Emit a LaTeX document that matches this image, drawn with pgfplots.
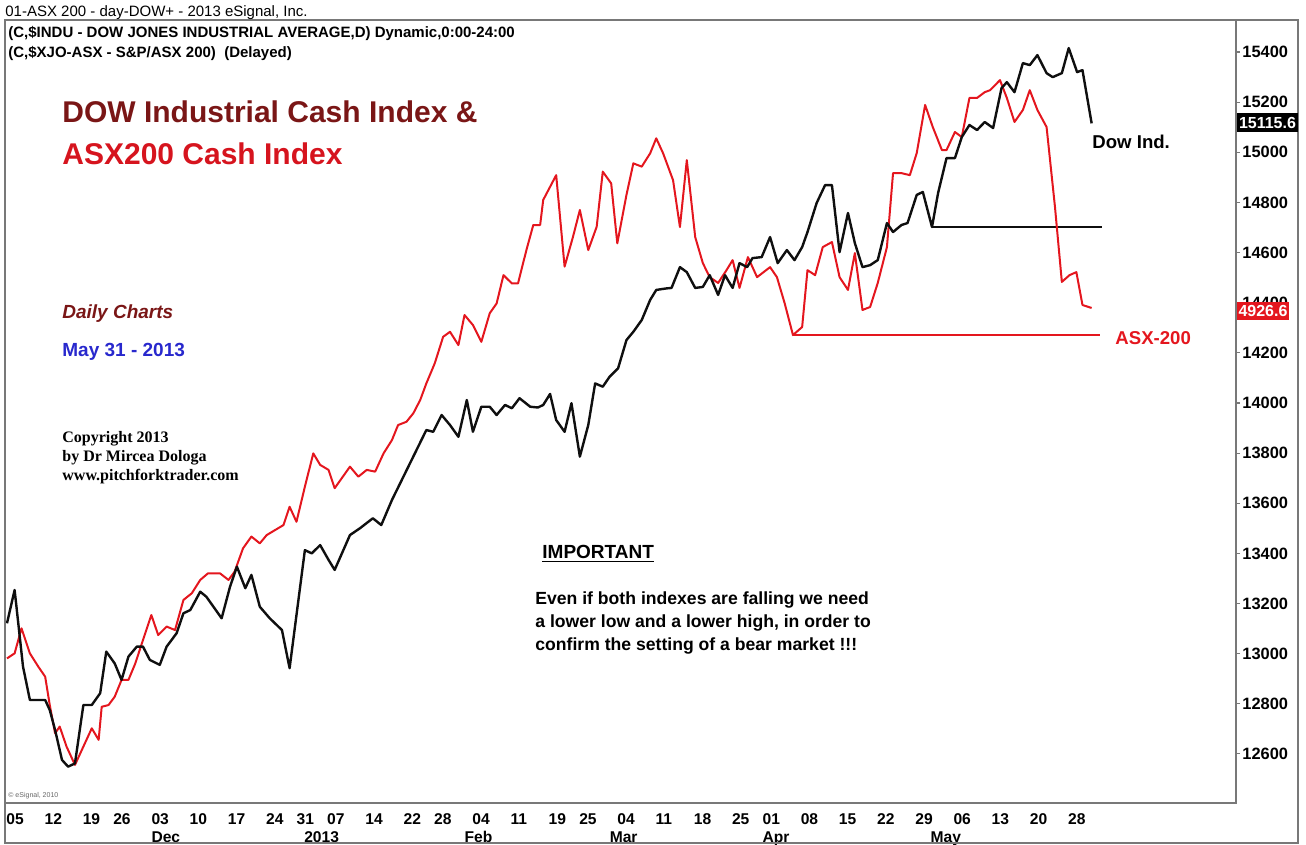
\documentclass[border=0pt]{standalone}
\usepackage{fontspec}
\setmainfont{Liberation Sans}
\newfontfamily\tnr{Liberation Serif}
\usepackage{pgfplots}
\usepackage{pgfplotstable}
\pgfplotsset{compat=1.18}

\definecolor{dowblk}{RGB}{15,15,15}
\definecolor{asxred}{RGB}{228,22,30}
\definecolor{maroon}{RGB}{122,22,22}
\definecolor{titlered}{RGB}{214,20,30}
\definecolor{dateblue}{RGB}{40,40,205}
\definecolor{framegray}{RGB}{120,120,120}

% x = trading day since 05 Nov 2012, y = index points on the Dow scale
\pgfplotstableread{
i v
0.0 13121
1.0 13254
2.1 12948
3.0 12815
5.0 12815
5.6 12775
6.3 12695
7.2 12576
8.0 12549
8.9 12562
10.0 12795
11.1 12795
12.2 12842
13.0 13008
14.1 12961
15.0 12895
15.9 12988
17.0 13028
17.8 13028
18.7 12975
20.0 12955
20.9 13028
22.2 13081
23.1 13161
24.0 13174
25.3 13247
26.1 13227
28.1 13141
29.2 13267
30.1 13347
31.2 13261
32.0 13314
33.1 13187
34.4 13141
36.0 13094
37.0 12942
39.0 13413
39.9 13400
41.0 13433
42.1 13374
42.9 13334
44.9 13473
46.2 13500
47.9 13540
49.0 13513
50.4 13613
51.9 13706
53.4 13799
54.9 13892
55.8 13885
56.9 13952
58.0 13912
59.1 13865
60.2 14012
61.0 13885
62.1 13985
63.2 13985
64.1 13952
65.2 13992
66.1 13979
67.1 14019
68.5 13985
69.5 13982
70.2 13992
71.1 14036
71.9 13932
73.0 13885
73.9 13999
75.0 13786
76.1 13912
77.0 14078
78.0 14065
78.9 14105
80.0 14138
81.1 14251
82.0 14284
83.1 14331
84.2 14411
85.0 14451
86.3 14457
87.0 14459
88.1 14542
89.0 14522
90.1 14459
91.1 14463
92.0 14510
93.1 14431
94.0 14510
95.0 14459
95.9 14558
96.9 14542
97.6 14578
98.8 14582
99.9 14662
100.9 14558
102.1 14610
103.1 14570
104.1 14622
104.8 14682
106.0 14798
107.1 14869
108.0 14869
109.0 14602
110.1 14758
111.0 14638
112.0 14542
113.0 14550
114.0 14570
115.2 14718
116.0 14682
117.1 14710
117.9 14718
119.1 14830
119.9 14842
121.1 14702
121.9 14838
123.0 14977
124.1 14977
125.0 15061
126.0 15109
127.0 15089
128.0 15121
129.1 15097
130.2 15256
130.9 15280
131.9 15240
133.0 15356
133.9 15348
134.9 15388
136.1 15316
136.9 15300
138.1 15316
139.0 15416
140.1 15320
140.8 15328
142.0 15115.6
}\dowtab

\pgfplotstableread{
i v
0.0 12981
1.0 13001
1.9 13101
3.0 13001
4.1 12948
5.0 12908
5.6 12795
6.3 12682
6.9 12709
7.8 12629
8.9 12556
10.0 12629
11.1 12702
12.0 12656
12.4 12788
13.3 12795
14.1 12828
15.0 12895
15.9 12895
16.8 12961
17.8 13054
18.9 13154
19.8 13074
20.9 13108
22.0 13094
23.1 13214
24.2 13241
25.3 13294
26.3 13320
27.9 13320
29.0 13294
29.8 13327
30.9 13420
32.0 13467
33.1 13440
34.0 13473
35.1 13493
36.2 13513
37.0 13586
37.9 13526
39.0 13666
40.1 13799
41.0 13753
42.1 13733
42.9 13660
44.9 13746
46.0 13706
47.1 13733
48.2 13726
49.3 13799
50.4 13852
51.2 13912
52.3 13925
53.2 13959
54.1 14012
54.9 14078
56.0 14158
57.1 14264
58.0 14284
59.1 14231
59.9 14351
61.0 14311
62.1 14244
63.2 14358
64.1 14397
65.0 14510
66.1 14477
66.9 14477
68.0 14610
68.9 14710
69.8 14710
70.2 14810
71.9 14909
73.0 14544
74.1 14663
75.0 14770
76.1 14610
77.2 14703
78.0 14923
79.1 14876
79.9 14637
81.1 14830
82.0 14956
83.1 14943
84.2 14996
85.0 15056
85.9 14996
87.2 14889
88.1 14702
89.0 14969
90.1 14662
91.1 14558
92.0 14502
93.1 14479
94.2 14530
95.0 14570
95.9 14459
97.0 14582
98.2 14502
99.9 14542
100.8 14502
101.8 14399
102.9 14271
104.1 14303
104.8 14530
105.8 14510
106.8 14622
108.0 14642
109.0 14502
110.1 14451
111.0 14598
112.0 14371
113.0 14383
114.0 14479
115.2 14622
116.0 14917
117.1 14917
118.2 14909
119.1 14997
120.2 15189
121.2 15101
122.4 15009
123.0 15009
124.1 15081
125.0 15061
126.0 15217
127.0 15217
128.0 15240
128.7 15248
130.0 15288
130.9 15217
131.9 15121
133.0 15169
133.9 15248
134.9 15169
136.1 15101
137.2 14782
138.1 14483
139.1 14510
140.0 14522
140.8 14391
142.0 14379
}\asxtab

\begin{document}
\begin{tikzpicture}
\path[use as bounding box] (0,0) rectangle (653pt,-422.5pt);
\begin{axis}[
    at={(2.5pt,-10pt)}, anchor=north west,
    scale only axis, width=615.5pt, height=391.5pt,
    xmin=-0.26, xmax=160.9, ymin=12404, ymax=15528,
    axis line style={framegray, line width=0.8pt},
    ytick={12600,12800,...,15400},
    scaled y ticks=false,
    ytick pos=right, xtick pos=bottom,
    tick align=outside, major tick length=2pt,
    ytick style={framegray, line width=0.6pt},
    yticklabel style={font=\bfseries\fontsize{8.2}{9}\selectfont,
        /pgf/number format/fixed, /pgf/number format/1000 sep={},
        /pgf/number format/assume math mode=true,
        anchor=west, inner sep=1pt},
    xtick={0,5,10,14,19,24,29,34,38,42,47,52,56,61,66,71,75,80,85,90,95,99,104,109,114,119,124,129,134,139},
    xticklabels={05,12,19,26,03,10,17,24,31,07,14,22,28,04,11,19,25,04,11,18,25,01,08,15,22,29,06,13,20,28},
    xtick style={draw=none},
    xticklabel style={font=\bfseries\fontsize{7.8}{9}\selectfont, anchor=north west,
        xshift=-1.5pt, yshift=-2pt, inner sep=1pt},
    extra x ticks={19,39,60,79,99,121},
    extra x tick labels={Dec,2013,Feb,Mar,Apr,May},
    extra x tick style={tick label style={yshift=-9pt}, tick style={draw=none}},
]
\addplot[asxred, line width=0.6pt] coordinates {(102.9,14271) (143.1,14271)};
\addplot[dowblk, line width=0.6pt] coordinates {(121.1,14702) (143.3,14702)};
\addplot[asxred, line width=1pt, line join=round] table[x=i,y=v]{\asxtab};
\addplot[dowblk, line width=1.2pt, line join=round] table[x=i,y=v]{\dowtab};
\end{axis}

\begin{scope}[x=0.5pt,y=-0.5pt]
\draw[framegray, line width=0.6pt] (5,20) -- (1298,20) -- (1298,843) -- (5,843) -- cycle;
% last-value badges
\fill[black] (1237,113) rectangle (1298,132);
\node[text=white, font=\bfseries\fontsize{8}{9}\selectfont, inner sep=0] at (1267.5,122.5) {15115.6};
\fill[asxred] (1237,302) rectangle (1289,320);
\node[text=white, font=\bfseries\fontsize{8}{9}\selectfont, inner sep=0] at (1263,311) {4926.6};
% header
\node[anchor=base west, inner sep=0, font=\fontsize{7.5}{9}\selectfont] at (5,17) {01-ASX 200 - day-DOW+ - 2013 eSignal, Inc.};
\node[anchor=base west, inner sep=0, font=\bfseries\fontsize{7.5}{9}\selectfont] at (8,38) {(C,\$INDU - DOW JONES INDUSTRIAL AVERAGE,D) Dynamic,0:00-24:00};
\node[anchor=base west, inner sep=0, font=\bfseries\fontsize{7.5}{9}\selectfont] at (8,58) {(C,\$XJO-ASX - S\&P/ASX 200)\ \ (Delayed)};
% titles and notes
\node[anchor=base west, inner sep=0, text=maroon, font=\bfseries\fontsize{15}{18}\selectfont] at (62,123) {DOW Industrial Cash Index \&};
\node[anchor=base west, inner sep=0, text=titlered, font=\bfseries\fontsize{15}{18}\selectfont] at (62,165) {ASX200 Cash Index};
\node[anchor=base west, inner sep=0, text=maroon, font=\bfseries\itshape\fontsize{9.5}{11}\selectfont] at (62,318) {Daily Charts};
\node[anchor=base west, inner sep=0, text=dateblue, font=\bfseries\fontsize{9.5}{11}\selectfont] at (62,356) {May 31 - 2013};
\node[anchor=base west, inner sep=0, font=\tnr\bfseries\fontsize{8}{9.5}\selectfont, align=left] at (62,480) {Copyright 2013\\by Dr Mircea Dologa\\www.pitchforktrader.com};
\node[anchor=base west, inner sep=0, font=\bfseries\fontsize{9.5}{11}\selectfont] at (542,558) {\underline{IMPORTANT}};
\node[anchor=base west, inner sep=0, font=\bfseries\fontsize{8.8}{11.3}\selectfont, align=left] at (535,650) {Even if both indexes are falling we need\\a lower low and a lower high, in order to\\confirm the setting of a bear market !!!};
\node[anchor=base west, inner sep=0, font=\bfseries\fontsize{9.3}{11}\selectfont] at (1092,149) {Dow Ind.};
\node[anchor=base west, inner sep=0, text=asxred, font=\bfseries\fontsize{9.3}{11}\selectfont] at (1115,344) {ASX-200};
\node[anchor=base west, inner sep=0, text=black!60, font=\fontsize{3.5}{4}\selectfont] at (8,797) {\textcopyright\ eSignal, 2010};
\end{scope}
\end{tikzpicture}
\end{document}
